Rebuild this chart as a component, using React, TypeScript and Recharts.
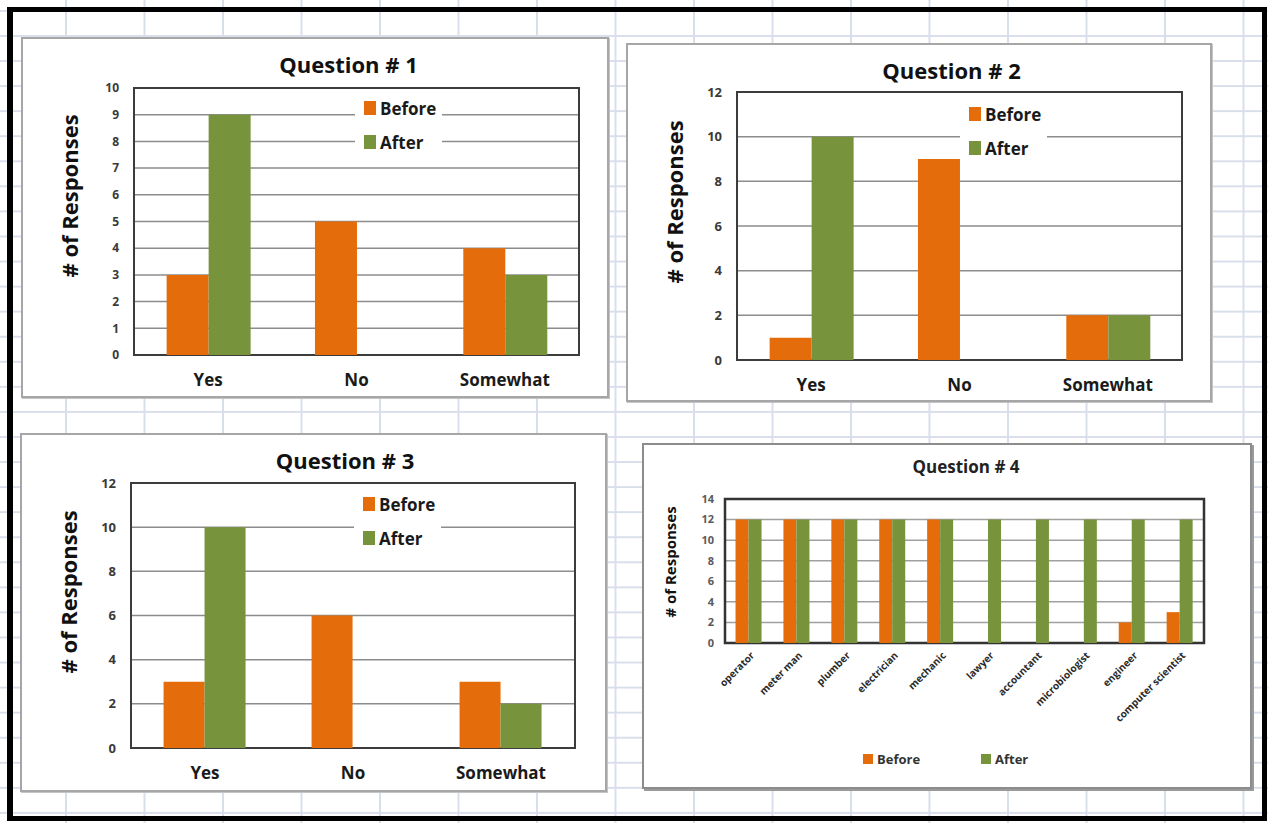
import { BarChart, Bar, XAxis, YAxis, CartesianGrid, Legend, ReferenceArea } from 'recharts'

// data
const answers = ['Yes', 'No', 'Somewhat']
const q1Before = [3, 5, 4]
const q1After = [9, 0, 3]
const q2Before = [1, 9, 2]
const q2After = [10, 0, 2]
const q3Before = [3, 6, 3]
const q3After = [10, 0, 2]
const q1Ticks = [0, 1, 2, 3, 4, 5, 6, 7, 8, 9, 10]
const q23Ticks = [0, 2, 4, 6, 8, 10, 12]

const occupations = ['operator', 'meter man', 'plumber', 'electrician', 'mechanic', 'lawyer', 'accountant', 'microbiologist', 'engineer', 'computer scientist']
const q4Before = [12, 12, 12, 12, 12, 0, 0, 0, 2, 3]
const q4After = [12, 12, 12, 12, 12, 12, 12, 12, 12, 12]
const q4Ticks = [0, 2, 4, 6, 8, 10, 12, 14]

const seriesOrder = ['Before', 'After']

const ORANGE = '#E46C0A'
const GREEN = '#77933C'
const FONT = '"Open Sans", Lato, sans-serif'

const rows = (cats: string[], before: number[], after: number[]) =>
  cats.map((name, i) => ({ name, before: before[i], after: after[i] }))

const ordered = (payload: any[] = []) =>
  payload.slice().sort((a, b) => seriesOrder.indexOf(a.value) - seriesOrder.indexOf(b.value))

interface PanelProps {
  title: string
  data: { name: string; before: number; after: number }[]
  ticks: number[]
  left: number
  top: number
  width: number
  height: number
  plotLeft: number
  plotRight: number
  plotTop: number
  plotBottom: number
  tickFont: number
}

function InsideLegend({ payload }: any) {
  return (
    <div style={{ width: '100%', height: '100%', background: '#fff' }}>
      {ordered(payload).map((p: any) => (
        <div key={p.value} style={{ height: 34, display: 'flex', alignItems: 'center', paddingLeft: 9 }}>
          <span style={{ width: 12, height: 14, background: p.color, marginRight: 4 }} />
          <span style={{ font: `700 17px ${FONT}`, color: '#1a1a1a' }}>{p.value}</span>
        </div>
      ))}
    </div>
  )
}

function QuestionPanel({ title, data, ticks, left, top, width, height, plotLeft, plotRight, plotTop, plotBottom, tickFont }: PanelProps) {
  const w = width - 4
  const h = height - 4
  const max = ticks[ticks.length - 1]
  const plotW = w - plotLeft - plotRight
  return (
    <div style={{ position: 'absolute', left, top, width, height, boxSizing: 'border-box', border: '2px solid #a6a6a6', boxShadow: '1px 1px 0 #c4c4c4', background: '#fff' }}>
      <div style={{ position: 'absolute', left: plotLeft - 8, width: plotW, top: 10, textAlign: 'center', font: `700 22px ${FONT}`, color: '#111', zIndex: 2 }}>
        {title}
      </div>
      <BarChart width={w} height={h} data={data} margin={{ top: plotTop, right: plotRight, bottom: 0, left: 0 }} barGap={0} barCategoryGap="22%">
        <CartesianGrid vertical={false} stroke="#8c8c8c" strokeWidth={1.5} />
        <XAxis
          dataKey="name"
          height={plotBottom}
          axisLine={false}
          tickLine={false}
          tickSize={0}
          tickMargin={19}
          tick={{ fill: '#1a1a1a', fontSize: 17, fontWeight: 700, fontFamily: FONT }}
        />
        <YAxis
          width={plotLeft}
          domain={[0, max]}
          ticks={ticks}
          interval={0}
          axisLine={false}
          tickLine={false}
          tickSize={0}
          tickMargin={15}
          tick={{ fill: '#3a3a3a', fontSize: tickFont, fontWeight: 700, fontFamily: FONT }}
          label={{
            content: () => (
              <text x={46} y={157} transform="rotate(-90 46 157)" textAnchor="middle" dominantBaseline="central" fill="#111" fontSize={22} fontWeight={700} fontFamily={FONT}>
                # of Responses
              </text>
            ),
          }}
        />
        <ReferenceArea y1={0} y2={max} fill="none" fillOpacity={0} stroke="#3c3c3c" strokeWidth={2} />
        <Bar dataKey="before" name="Before" fill={ORANGE} isAnimationActive={false} />
        <Bar dataKey="after" name="After" fill={GREEN} isAnimationActive={false} />
        <Legend
          layout="vertical"
          align="center"
          verticalAlign="middle"
          wrapperStyle={{ left: 332, top: 52, width: 87, height: 70 }}
          content={InsideLegend}
        />
      </BarChart>
    </div>
  )
}

function SlantTick({ x, y, payload }: any) {
  const tx = x + 4
  return (
    <text x={tx} y={y} transform={`rotate(-45 ${tx} ${y})`} textAnchor="end" dy={3} fill="#2a2a2a" fontSize={10} fontWeight={700} fontFamily={FONT}>
      {payload.value}
    </text>
  )
}

function BottomLegend({ payload }: any) {
  return (
    <div style={{ display: 'flex' }}>
      {ordered(payload).map((p: any) => (
        <div key={p.value} style={{ width: 118, display: 'flex', alignItems: 'center' }}>
          <span style={{ width: 10, height: 10, background: p.color, marginRight: 4 }} />
          <span style={{ font: `700 13px ${FONT}`, color: '#333' }}>{p.value}</span>
        </div>
      ))}
    </div>
  )
}

function OccupationPanel() {
  const width = 610
  const height = 346
  const w = width - 4
  const h = height - 4
  const max = q4Ticks[q4Ticks.length - 1]
  return (
    <div style={{ position: 'absolute', left: 642, top: 443, width, height, boxSizing: 'border-box', border: '2px solid #8c8c8c', boxShadow: '2px 2px 0 #9a9a9a', background: '#fff' }}>
      <div style={{ position: 'absolute', left: 0, width: 644, top: 10, textAlign: 'center', font: `700 17px ${FONT}`, color: '#222', zIndex: 2 }}>
        Question # 4
      </div>
      <BarChart width={w} height={h} data={rows(occupations, q4Before, q4After)} margin={{ top: 54, right: 46, bottom: 0, left: 0 }} barGap={0} barCategoryGap="22%">
        <CartesianGrid vertical={false} stroke="#a0a0a0" strokeWidth={1.5} />
        <XAxis dataKey="name" height={144} interval={0} axisLine={false} tickLine={false} tickSize={0} tickMargin={11} tick={<SlantTick />} />
        <YAxis
          width={81}
          domain={[0, max]}
          ticks={q4Ticks}
          interval={0}
          axisLine={false}
          tickLine={false}
          tickSize={0}
          tickMargin={11}
          tick={{ fill: '#5a5a5a', fontSize: 11, fontWeight: 700, fontFamily: FONT }}
          label={{
            content: () => (
              <text x={26} y={117} transform="rotate(-90 26 117)" textAnchor="middle" dominantBaseline="central" fill="#111" fontSize={15} fontWeight={700} fontFamily={FONT}>
                # of Responses
              </text>
            ),
          }}
        />
        <ReferenceArea y1={0} y2={max} fill="none" fillOpacity={0} stroke="#333" strokeWidth={2.5} />
        <Bar dataKey="before" name="Before" fill={ORANGE} isAnimationActive={false} />
        <Bar dataKey="after" name="After" fill={GREEN} isAnimationActive={false} />
        <Legend
          layout="vertical"
          align="center"
          verticalAlign="middle"
          wrapperStyle={{ left: 219, top: 305, width: 240, height: 20 }}
          content={BottomLegend}
        />
      </BarChart>
    </div>
  )
}

export default function App() {
  const gridLine = '#d9deeb'
  return (
    <div
      style={{
        position: 'absolute',
        left: 0,
        top: 0,
        width: 1268,
        height: 823,
        overflow: 'hidden',
        backgroundColor: '#fff',
        backgroundImage: `linear-gradient(to right, ${gridLine} 0, ${gridLine} 2px, transparent 2px), linear-gradient(to bottom, ${gridLine} 0, ${gridLine} 2px, transparent 2px)`,
        backgroundSize: '78.5px 100%, 100% 25.07px',
        backgroundPosition: '65px 0, 0 35px',
        fontFamily: FONT,
      }}
    >
      <div style={{ position: 'absolute', left: 7, top: 7, width: 1260, height: 814, boxSizing: 'border-box', borderStyle: 'solid', borderColor: '#000', borderWidth: '5px 5px 5px 6px' }} />
      <QuestionPanel title="Question # 1" data={rows(answers, q1Before, q1After)} ticks={q1Ticks} tickFont={12} left={21} top={37} width={588} height={361} plotLeft={111} plotRight={28} plotTop={49} plotBottom={41} />
      <QuestionPanel title="Question # 2" data={rows(answers, q2Before, q2After)} ticks={q23Ticks} tickFont={13} left={626} top={43} width={586} height={359} plotLeft={109} plotRight={28} plotTop={47} plotBottom={40} />
      <QuestionPanel title="Question # 3" data={rows(answers, q3Before, q3After)} ticks={q23Ticks} tickFont={13} left={20} top={433} width={587} height={359} plotLeft={109} plotRight={30} plotTop={48} plotBottom={42} />
      <OccupationPanel />
    </div>
  )
}
